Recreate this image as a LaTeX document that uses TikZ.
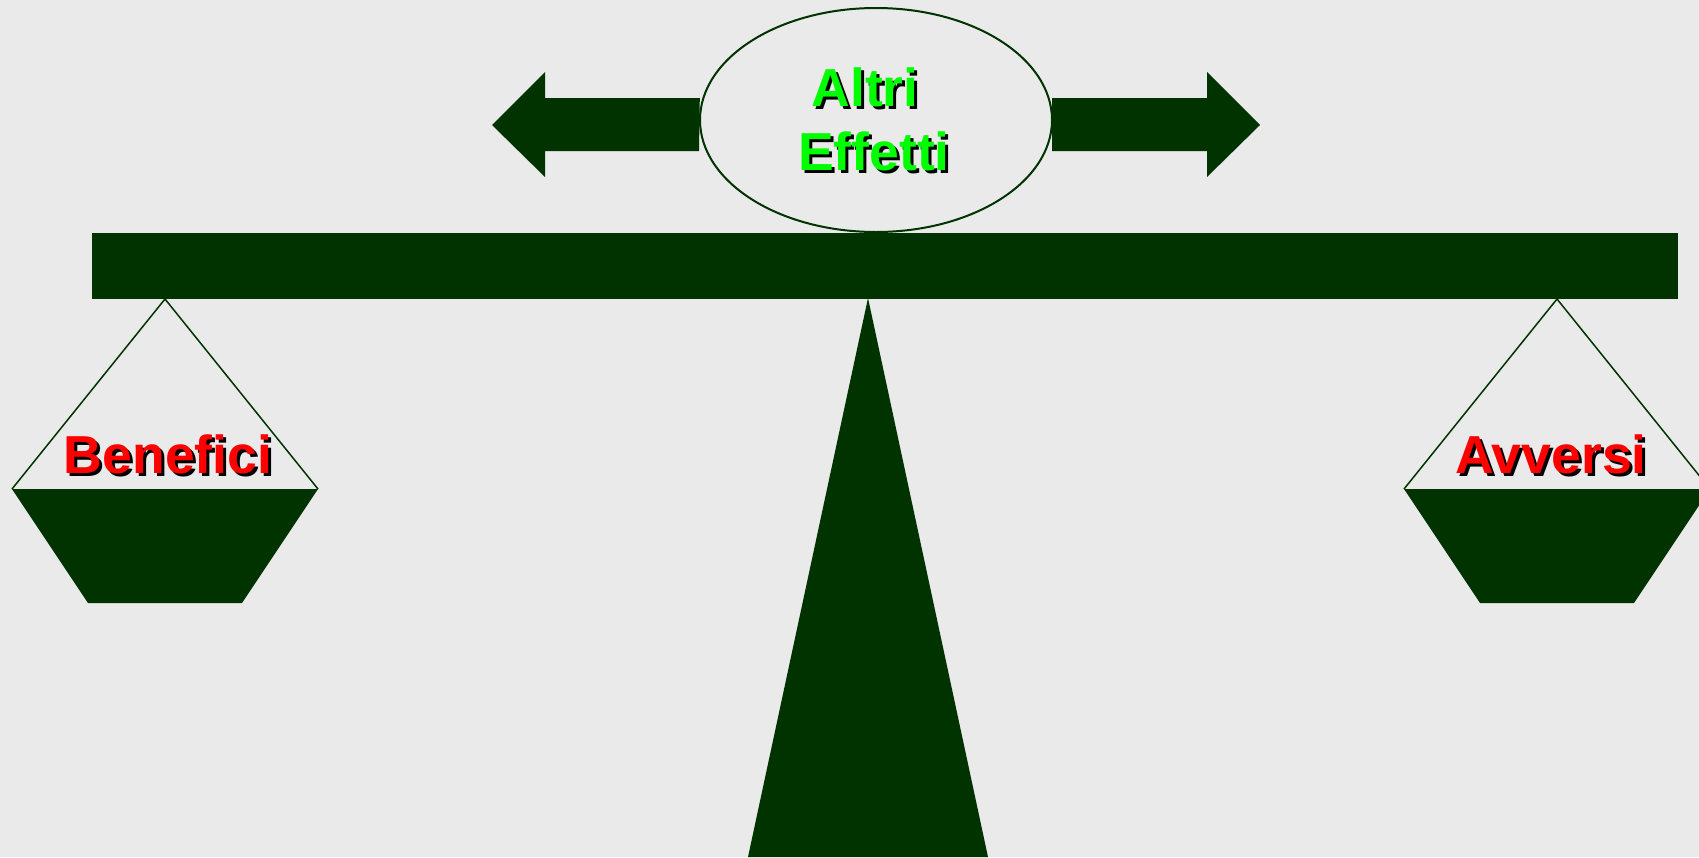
\documentclass[tikz,border=0pt]{standalone}
\usepackage{fontspec}
\setmainfont{Liberation Sans}
\definecolor{bg}{HTML}{EAEAEA}
\definecolor{dkgreen}{HTML}{003300}
\definecolor{brightgreen}{HTML}{00FF00}
\definecolor{brightred}{HTML}{FF0000}
\tikzset{
  solidpart/.style={fill=dkgreen, draw=none},
  cordline/.style={draw=dkgreen, line width=1.5pt, line join=miter},
  lbl/.style={anchor=base, inner sep=0pt, font=\fontsize{53.5}{64}\selectfont\bfseries},
  lblshadow/.style={lbl, text=black},
}
\begin{document}
\begin{tikzpicture}[x=1pt,y=-1pt]
\useasboundingbox (0,0) rectangle (1699,857);
\clip (0,0) rectangle (1699,857);
\fill[bg] (0,0) rectangle (1699,857);
% fulcrum
\fill[solidpart] (868,298) -- (988,857) -- (748,857) -- cycle;
% beam
\node[solidpart, minimum width=1586pt, minimum height=66pt, inner sep=0pt, anchor=north west] (beam) at (92,233) {};
% left pan
\coordinate (lapex) at (165,299);
\coordinate (ll) at (12,489);
\coordinate (lr) at (318,489);
\fill[solidpart] (ll) -- (lr) -- (242,603) -- (88,603) -- cycle;
\draw[cordline] (ll) -- (lapex) -- (lr);
% right pan
\coordinate (rapex) at (1557,299);
\coordinate (rl) at (1404,489);
\coordinate (rr) at (1710,489);
\fill[solidpart] (rl) -- (rr) -- (1634,603) -- (1480,603) -- cycle;
\draw[cordline] (rl) -- (rapex) -- (rr);
% ellipse
\draw[draw=dkgreen, line width=2pt] (876,120) ellipse [x radius=176, y radius=112];
\node[inner sep=0pt, minimum width=352pt, minimum height=224pt] (ell) at (876,120) {};
% arrows
\fill[solidpart] (ell.west) ++(0,-22) -- (545,98) -- (545,72) -- (492,125) -- (545,177) -- (545,151) -- (699,151) -- cycle;
\fill[solidpart] (1052,98) -- (1207,98) -- (1207,72) -- (1260,125) -- (1207,177) -- (1207,151) -- (1052,151) -- cycle;
% labels
\node[lblshadow] (altri-s) at (868,109) {Altri};
\node[lbl, text=brightgreen] (altri) at (865,106) {Altri};
\node[lblshadow] (effetti-s) at (877,173) {Effetti};
\node[lbl, text=brightgreen] (effetti) at (874,170) {Effetti};
\node[lblshadow] (benefici-s) at (171,476) {Benefici};
\node[lbl, text=brightred] (benefici) at (168,473) {Benefici};
\node[lblshadow] (avversi-s) at (1554,476) {Avversi};
\node[lbl, text=brightred] (avversi) at (1551,473) {Avversi};
\end{tikzpicture}
\end{document}
